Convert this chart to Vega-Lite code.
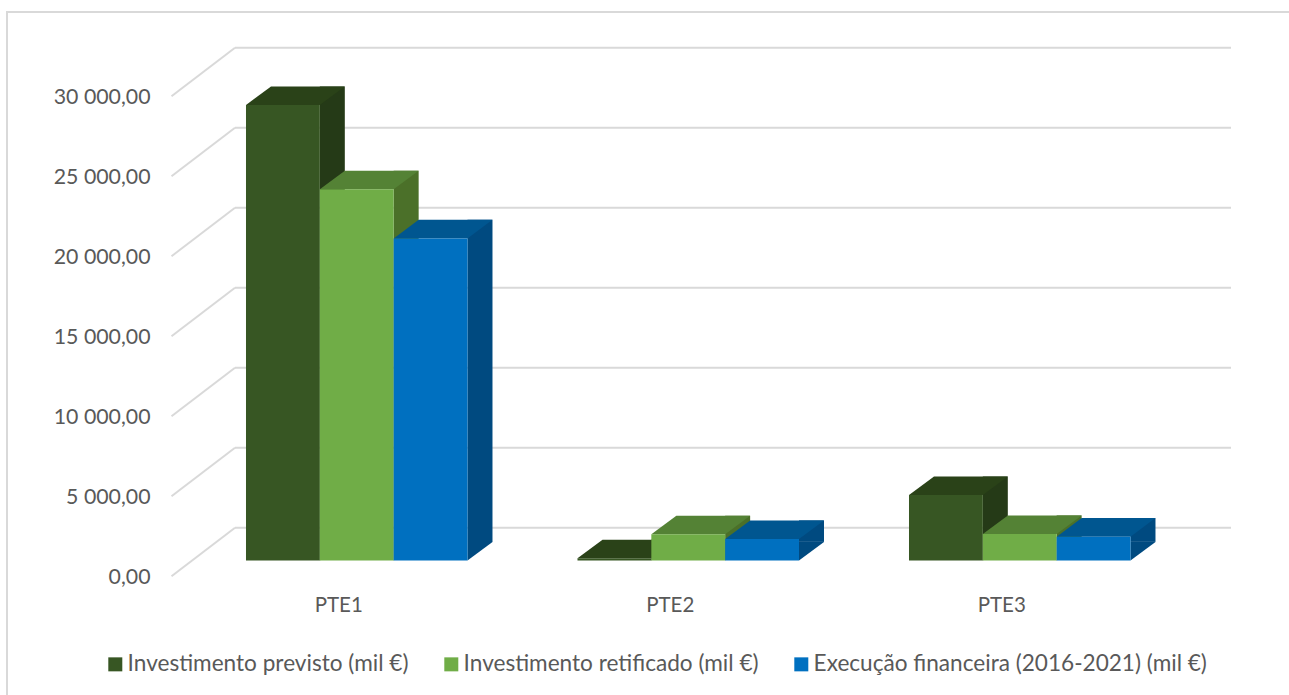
{
"$schema":"https://vega.github.io/schema/vega-lite/v6.json",
"width":1289,"height":695,"padding":0,"autosize":"none","background":"white",
"config":{"view":{"stroke":null},"font":"Lato"},
"datasets":{
"bars":[
{"grupo":"PTE1","serie":"Investimento previsto (mil €)","valor":28470},
{"grupo":"PTE1","serie":"Investimento retificado (mil €)","valor":23200},
{"grupo":"PTE1","serie":"Execução financeira (2016-2021) (mil €)","valor":20130},
{"grupo":"PTE2","serie":"Investimento previsto (mil €)","valor":140},
{"grupo":"PTE2","serie":"Investimento retificado (mil €)","valor":1635},
{"grupo":"PTE2","serie":"Execução financeira (2016-2021) (mil €)","valor":1345},
{"grupo":"PTE3","serie":"Investimento previsto (mil €)","valor":4090},
{"grupo":"PTE3","serie":"Investimento retificado (mil €)","valor":1656},
{"grupo":"PTE3","serie":"Execução financeira (2016-2021) (mil €)","valor":1490}
],
"ticks":[{"tick":0},{"tick":5000},{"tick":10000},{"tick":15000},{"tick":20000},{"tick":25000},{"tick":30000}]
},
"resolve":{"scale":{"x":"independent","y":"independent","xOffset":"independent","color":"independent"},"axis":{"x":"independent","y":"independent"}},
"layer":[
{"data":{"values":[{"a":1}]},"mark":{"type":"rule","color":"#D9D9D9","strokeWidth":2},
 "encoding":{"x":{"datum":0,"type":"quantitative","scale":{"domain":[0,1],"range":[7,7]},"axis":null},
  "y":{"datum":34281,"type":"quantitative","scale":{"domain":[-8406.25,35031.25],"range":[695,0]},"axis":null},"y2":{"datum":-8406.25}}},
{"data":{"values":[{"a":1}]},"mark":{"type":"rule","color":"#D9D9D9","strokeWidth":2},
 "encoding":{"x":{"datum":0,"type":"quantitative","scale":{"domain":[0,1],"range":[6,1289]},"axis":null},"x2":{"datum":1},
  "y":{"datum":34281,"type":"quantitative","scale":{"domain":[-8406.25,35031.25],"range":[695,0]},"axis":null}}},
{"data":{"name":"ticks"},"mark":{"type":"rule","color":"#D9D9D9","strokeWidth":2,"yOffset":-32.7},
 "encoding":{"x":{"datum":0,"type":"quantitative","scale":{"domain":[0,1],"range":[235,1231]},"axis":null},"x2":{"datum":1},
  "y":{"field":"tick","type":"quantitative","scale":{"domain":[-8406.25,35031.25],"range":[695,0]},"axis":null}}},
{"data":{"name":"ticks"},"mark":{"type":"rule","color":"#D9D9D9","strokeWidth":2,"yOffset":15.7,"y2Offset":-32.7},
 "encoding":{"x":{"datum":0,"type":"quantitative","scale":{"domain":[0,1],"range":[171.5,235]},"axis":null},"x2":{"datum":1},
  "y":{"field":"tick","type":"quantitative","scale":{"domain":[-8406.25,35031.25],"range":[695,0]},"axis":null},"y2":{"field":"tick"}}},
{"data":{"name":"bars"},"mark":{"type":"bar","width":25},
 "encoding":{
  "x":{"field":"grupo","type":"nominal","scale":{"domain":["PTE1","PTE2","PTE3"],"range":[240.4,1234.9],"paddingInner":0.3318,"paddingOuter":0.1659},"axis":null},
  "xOffset":{"field":"serie","type":"nominal","scale":{"domain":["Investimento previsto (mil €)","Investimento retificado (mil €)","Execução financeira (2016-2021) (mil €)"]}},
  "y":{"field":"valor","type":"quantitative","scale":{"domain":[-8406.25,35031.25],"range":[676.4,-18.6]},"axis":null,"stack":null},
  "color":{"field":"serie","type":"nominal","legend":null,"scale":{"domain":["Investimento previsto (mil €)","Investimento retificado (mil €)","Execução financeira (2016-2021) (mil €)"],"range":["#253A17","#4B7029","#004A80"]}}}},
{"data":{"name":"bars"},"mark":{"type":"point","shape":"M36.9,0 L36.9,-18.6 L61.9,-18.6 Z","size":4,"filled":true,"opacity":1,"strokeWidth":0},
 "encoding":{
  "x":{"field":"grupo","type":"nominal","scale":{"domain":["PTE1","PTE2","PTE3"],"range":[191,1185.5],"paddingInner":0.3318,"paddingOuter":0.1659},"axis":null},
  "xOffset":{"field":"serie","type":"nominal","scale":{"domain":["Investimento previsto (mil €)","Investimento retificado (mil €)","Execução financeira (2016-2021) (mil €)"]}},
  "y":{"datum":0,"type":"quantitative","scale":{"domain":[-8406.25,35031.25],"range":[695,0]},"axis":null},
  "color":{"field":"serie","type":"nominal","legend":null,"scale":{"domain":["Investimento previsto (mil €)","Investimento retificado (mil €)","Execução financeira (2016-2021) (mil €)"],"range":["#253A17","#4B7029","#004A80"]}}}},
{"data":{"name":"bars"},"mark":{"type":"point","shape":"M-36.9,0 L-11.9,-18.6 L61.9,-18.6 L36.9,0 Z","size":4,"filled":true,"opacity":1,"strokeWidth":0},
 "encoding":{
  "x":{"field":"grupo","type":"nominal","scale":{"domain":["PTE1","PTE2","PTE3"],"range":[191,1185.5],"paddingInner":0.3318,"paddingOuter":0.1659},"axis":null},
  "xOffset":{"field":"serie","type":"nominal","scale":{"domain":["Investimento previsto (mil €)","Investimento retificado (mil €)","Execução financeira (2016-2021) (mil €)"]}},
  "y":{"field":"valor","type":"quantitative","scale":{"domain":[-8406.25,35031.25],"range":[695,0]},"axis":null},
  "color":{"field":"serie","type":"nominal","legend":null,"scale":{"domain":["Investimento previsto (mil €)","Investimento retificado (mil €)","Execução financeira (2016-2021) (mil €)"],"range":["#2A4218","#548235","#005690"]}}}},
{"data":{"name":"bars"},"mark":{"type":"bar"},
 "encoding":{
  "x":{"field":"grupo","type":"nominal","scale":{"domain":["PTE1","PTE2","PTE3"],"range":[191,1185.5],"paddingInner":0.3318,"paddingOuter":0.1659},
   "axis":{"title":null,"domain":false,"ticks":false,"labelAngle":0,"labelFont":"Lato","labelFontSize":20.5,"labelColor":"#595959","offset":-100,"labelPadding":0,"labelOffset":-18}},
  "xOffset":{"field":"serie","type":"nominal","scale":{"domain":["Investimento previsto (mil €)","Investimento retificado (mil €)","Execução financeira (2016-2021) (mil €)"]}},
  "y":{"field":"valor","type":"quantitative","stack":null,"scale":{"domain":[-8406.25,35031.25],"range":[695,0]},
   "axis":{"title":null,"domain":false,"ticks":false,"grid":false,"values":[0,5000,10000,15000,20000,25000,30000],"labelFont":"Lato","labelFontSize":21.3,"labelColor":"#595959","offset":-152,"labelPadding":2,"labelOffset":16.5,
    "labelExpr":"replace(replace(format(datum.value,',.2f'),',',' '),'.',',')"}},
  "color":{"field":"serie","type":"nominal","scale":{"domain":["Investimento previsto (mil €)","Investimento retificado (mil €)","Execução financeira (2016-2021) (mil €)"],"range":["#375623","#70AD47","#0070C0"]},
   "legend":{"title":null,"orient":"none","legendX":104,"legendY":653,"direction":"horizontal","columns":3,"symbolType":"square","symbolSize":196,"symbolStrokeWidth":0,"labelFont":"Lato","labelFontSize":22.6,"labelColor":"#595959","labelLimit":500,"columnPadding":31,"labelOffset":1}}}}
]
}
